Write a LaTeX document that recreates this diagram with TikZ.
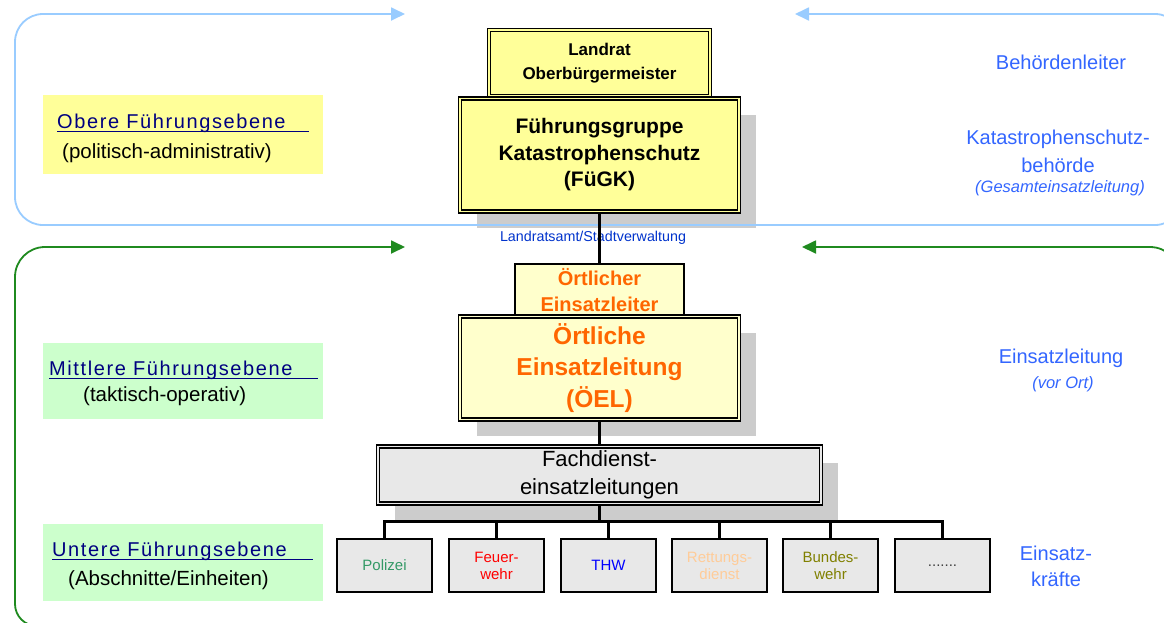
\documentclass[tikz,border=0pt]{standalone}
\usepackage{fontspec}
\setmainfont{Liberation Sans}
\usetikzlibrary{arrows.meta,shadows}
\definecolor{frameblue}{HTML}{99CCFF}
\definecolor{framegreen}{HTML}{1F8A1F}
\definecolor{lblyellow}{HTML}{FFFF99}
\definecolor{lblgreen}{HTML}{CCFFCC}
\definecolor{boxyellow}{HTML}{FFFF99}
\definecolor{boxpale}{HTML}{FFFFCC}
\definecolor{boxgray}{HTML}{E8E8E8}
\definecolor{shadowgray}{HTML}{CCCCCC}
\definecolor{navytext}{HTML}{000080}
\definecolor{sideblue}{HTML}{3366FF}
\definecolor{amtblue}{HTML}{0033CC}
\definecolor{oelorange}{HTML}{FF6600}
\definecolor{polgreen}{HTML}{339966}
\definecolor{rettorange}{HTML}{FFCC99}
\definecolor{bwolive}{HTML}{808000}
\newcommand\szf[2]{\fontsize{#1}{#2}\selectfont}
\tikzset{
  frametip/.tip={Triangle[length=14pt,width=13pt]},
  blueframe/.style={draw=frameblue, fill=none, line width=1.8pt},
  greenframe/.style={draw=framegreen, fill=none, line width=1.8pt},
  lblbox/.style={draw=none, minimum width=280pt, inner sep=0pt},
  heading/.style={text=navytext, font=\szf{20}{24}\addfontfeatures{LetterSpace=8}, anchor=base west, inner sep=0pt},
  subhead/.style={text=black, font=\szf{20.5}{24}, anchor=base west, inner sep=0pt},
  uline/.style={draw=navytext, line width=1.5pt},
  dblbox/.style={draw=black, line width=1.2pt, double distance=1.8pt, align=center, inner sep=0pt},
  plainbox/.style={draw=black, line width=1.8pt, align=center, inner sep=0pt},
  shade/.style={drop shadow={shadow xshift=17pt, shadow yshift=-16pt, fill=shadowgray, opacity=1, draw=none}},
  sidetext/.style={text=sideblue, font=\szf{20}{28}, align=center, inner sep=0pt},
  sideital/.style={text=sideblue, font=\szf{16.5}{20}\itshape, align=center, inner sep=0pt},
  conn/.style={draw=black, line width=3pt},
  thinconn/.style={draw=black, line width=2.2pt},
  unitbox/.style={plainbox, fill=boxgray, minimum width=95pt, minimum height=53pt, font=\szf{15}{17}},
}
\begin{document}
\begin{tikzpicture}[x=1pt,y=-1pt]
\useasboundingbox (0,0) rectangle (1164,622);
\fill[white] (0,0) rectangle (1164,622);

% left label boxes
\node[lblbox, fill=lblyellow, minimum height=79pt] (obox) at (183,134.5) {};
\node[heading] (otitle) at (57,128) {Obere Führungsebene};
\draw[uline] ([yshift=-3.5pt]otitle.base west) -- ++(252,0);
\node[subhead] (osub) at (62,158) {(politisch-administrativ)};

\node[lblbox, fill=lblgreen, minimum height=76pt] (mbox) at (183,380.5) {};
\node[heading] (mtitle) at (49,375) {Mittlere Führungsebene};
\draw[uline] ([yshift=-3.5pt]mtitle.base west) -- ++(269,0);
\node[subhead] (msub) at (83,401) {(taktisch-operativ)};

\node[lblbox, fill=lblgreen, minimum height=77pt] (ubox) at (183,562.5) {};
\node[heading] (utitle) at (52,556) {Untere Führungsebene};
\draw[uline] ([yshift=-3.5pt]utitle.base west) -- ++(261,0);
\node[subhead] (usub) at (68,585) {(Abschnitte/Einheiten)};

% centre hierarchy
\node[dblbox, fill=boxyellow, double=boxyellow, minimum width=221pt, minimum height=66pt,
      font=\bfseries\szf{17}{24}] (landrat) at (599.5,63) {Landrat\\Oberbürgermeister};
\node[dblbox, shade, fill=boxyellow, double=boxyellow, minimum width=279pt, minimum height=113pt,
      font=\bfseries\szf{21}{26.5}] (fugk) at (599.5,155) {Führungsgruppe\\Katastrophenschutz\\(FüGK)};

\node[text=amtblue, font=\szf{14.3}{16}, inner sep=0pt] (amt) at (593,238) {Landratsamt/Stadtverwaltung};

\node[plainbox, fill=boxpale, minimum width=169pt, minimum height=52pt, text=oelorange,
      font=\bfseries\szf{20}{26}] (oertl) at (599.5,290) {Örtlicher\\Einsatzleiter};
\node[dblbox, shade, fill=boxpale, double=boxpale, minimum width=279pt, minimum height=103pt, text=oelorange,
      font=\bfseries\szf{24.5}{31.5}] (oel) at (599.5,368) {Örtliche\\Einsatzleitung\\(ÖEL)};

\node[dblbox, shade, fill=boxgray, double=boxgray, minimum width=443pt, minimum height=57pt,
      font=\szf{22}{28}] (fach) at (599.5,475) {Fachdienst-\\einsatzleitungen};

% unit boxes
\node[unitbox, text=polgreen] (polizei) at (384.5,565.5) {Polizei};
\node[unitbox, text=red] (feuer) at (496.5,565.5) {Feuer-\\wehr};
\node[unitbox, text=blue] (thw) at (608.5,565.5) {THW};
\node[unitbox, text=rettorange] (rett) at (719.5,565.5) {Rettungs-\\dienst};
\node[unitbox, text=bwolive] (bund) at (830.5,565.5) {Bundes-\\wehr};
\node[unitbox, text=black!75] (more) at (942.5,565.5) {.......};

% right side texts
\node[sidetext] (behl) at (1061,62) {Behördenleiter};
\node[sidetext] (kats) at (1058,151) {Katastrophenschutz-\\behörde};
\node[sideital] (gesamt) at (1060,188) {(Gesamteinsatzleitung)};
\node[sidetext] (eleit) at (1061,358) {Einsatzleitung};
\node[sideital] (vorort) at (1063,384) {(vor Ort)};
\node[sidetext, font=\szf{20}{26}] (ekraft) at (1056,566) {Einsatz-\\kräfte};

% frames
\begin{scope}
\clip (0,0) rectangle (1164,622);
\draw[blueframe, rounded corners=28pt, {frametip}-] (405,14) -- (15,14) -- (15,225) -- (1183,225) -- (1183,150);
\draw[blueframe, rounded corners=28pt, -{frametip}] (1183,100) -- (1183,14) -- (795,14);
\draw[greenframe, rounded corners=30pt, {frametip}-] (405,247) -- (15,247) [rounded corners=22pt] -- (15,626) -- (200,626);
\draw[greenframe, rounded corners=30pt, -{frametip}] (1180,400) -- (1180,247) -- (802,247);
\end{scope}

% connectors
\coordinate (busmid) at (599.5,521);
\draw[conn] (fugk.south) -- (oertl.north);
\draw[conn] (oel.south) -- (fach.north);
\draw[conn] (fach.south) -- (busmid);
\draw[conn] (busmid) -| (polizei.north);
\draw[conn] (busmid) -| (feuer.north);
\draw[conn] (busmid) -| (thw.north);
\draw[thinconn] (busmid) -| (rett.north);
\draw[thinconn] (busmid) -| (bund.north);
\draw[conn] (busmid) -| (more.north);
\end{tikzpicture}
\end{document}
